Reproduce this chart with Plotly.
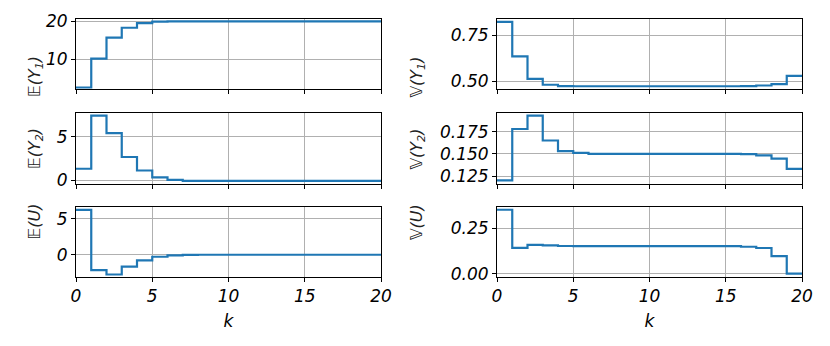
import plotly.graph_objects as go
from plotly.subplots import make_subplots

# step values for k = 0..19 (held until k+1)
k = list(range(21))
e_y1 = [2.6, 10.2, 15.7, 18.3, 19.5, 19.9, 20.0, 20.0, 20.0, 20.0,
        20.0, 20.0, 20.0, 20.0, 20.0, 20.0, 20.0, 20.0, 20.0, 20.0]
e_y2 = [1.35, 7.45, 5.45, 2.7, 1.15, 0.35, 0.08, -0.03, -0.05, -0.05,
        -0.05, -0.04, -0.04, -0.04, -0.04, -0.04, -0.04, -0.04, -0.04, -0.04]
e_u = [6.25, -2.15, -2.75, -1.65, -0.78, -0.28, -0.1, -0.03, 0.0, 0.0,
       0.0, 0.0, 0.0, 0.0, 0.0, 0.0, 0.0, 0.0, 0.0, 0.0]
v_y1 = [0.822, 0.635, 0.513, 0.481, 0.474, 0.473, 0.473, 0.473, 0.473, 0.473,
        0.473, 0.473, 0.473, 0.473, 0.473, 0.473, 0.474, 0.477, 0.484, 0.529]
v_y2 = [0.120, 0.178, 0.193, 0.165, 0.153, 0.151, 0.150, 0.150, 0.150, 0.150,
        0.150, 0.150, 0.150, 0.150, 0.150, 0.150, 0.1497, 0.1482, 0.1445, 0.133]
v_u = [0.351, 0.142, 0.158, 0.156, 0.152, 0.151, 0.151, 0.151, 0.151, 0.151,
       0.151, 0.151, 0.151, 0.151, 0.151, 0.151, 0.148, 0.141, 0.097, 0.0]

panels = [
    (1, 1, e_y1, "𝔼(<i>Y</i><sub>1</sub>)", [2.2, 20.6], [10, 20], None),
    (2, 1, e_y2, "𝔼(<i>Y</i><sub>2</sub>)", [-0.4, 7.75], [0, 5], None),
    (3, 1, e_u, "𝔼(<i>U</i>)", [-3.1, 6.65], [0, 5], None),
    (1, 2, v_y1, "𝕍(<i>Y</i><sub>1</sub>)", [0.458, 0.838], [0.5, 0.75], ".2f"),
    (2, 2, v_y2, "𝕍(<i>Y</i><sub>2</sub>)", [0.116, 0.196], [0.125, 0.15, 0.175], ".3f"),
    (3, 2, v_u, "𝕍(<i>U</i>)", [-0.018, 0.366], [0.0, 0.25], ".2f"),
]

W, H = 830, 346
xdom = {1: [76 / W, 381 / W], 2: [497 / W, 802 / W]}
ydom = {1: [1 - 89 / H, 1 - 19 / H], 2: [1 - 184 / H, 1 - 113 / H], 3: [1 - 277 / H, 1 - 207 / H]}
label_x = {1: 23 / W, 2: 417 / W}

fig = make_subplots(rows=3, cols=2)
font = dict(family="DejaVu Sans", size=17, color="black", style="italic")

for row, col, vals, label, yr, ticks, fmt in panels:
    fig.add_trace(go.Scatter(
        x=k, y=vals + [vals[-1]],
        mode="lines", line=dict(color="#1f77b4", width=2.2, shape="hv"),
        showlegend=False
    ), row=row, col=col)
    fig.update_xaxes(
        domain=xdom[col], range=[0, 20], tickvals=[0, 5, 10, 15, 20],
        showticklabels=(row == 3), ticks="outside", ticklen=4, tickcolor="black",
        showgrid=True, gridcolor="#b0b0b0", gridwidth=1,
        showline=True, linecolor="black", linewidth=1, mirror=True,
        tickfont=font, zeroline=False, automargin=False,
        title=dict(text="k", font=font, standoff=9) if row == 3 else None,
        row=row, col=col)
    fig.update_yaxes(
        domain=ydom[row], range=yr, tickvals=ticks, tickformat=fmt,
        ticks="outside", ticklen=4, tickcolor="black",
        showgrid=True, gridcolor="#b0b0b0", gridwidth=1,
        showline=True, linecolor="black", linewidth=1, mirror=True,
        tickfont=font, zeroline=False, automargin=False,
        row=row, col=col)
    fig.add_annotation(
        text=label, xref="paper", yref="paper",
        x=label_x[col], y=sum(ydom[row]) / 2, textangle=-90,
        showarrow=False, font=dict(family="DejaVu Sans", size=16, color="#222", style="italic"))

fig.update_layout(
    width=W, height=H, autosize=False, margin=dict(l=0, r=0, t=0, b=0, pad=0),
    plot_bgcolor="white", paper_bgcolor="white",
)
fig.write_html("out.html", config={"displayModeBar": False, "responsive": False},
               post_script="document.body.style.margin='0';document.body.style.overflow='hidden';")
